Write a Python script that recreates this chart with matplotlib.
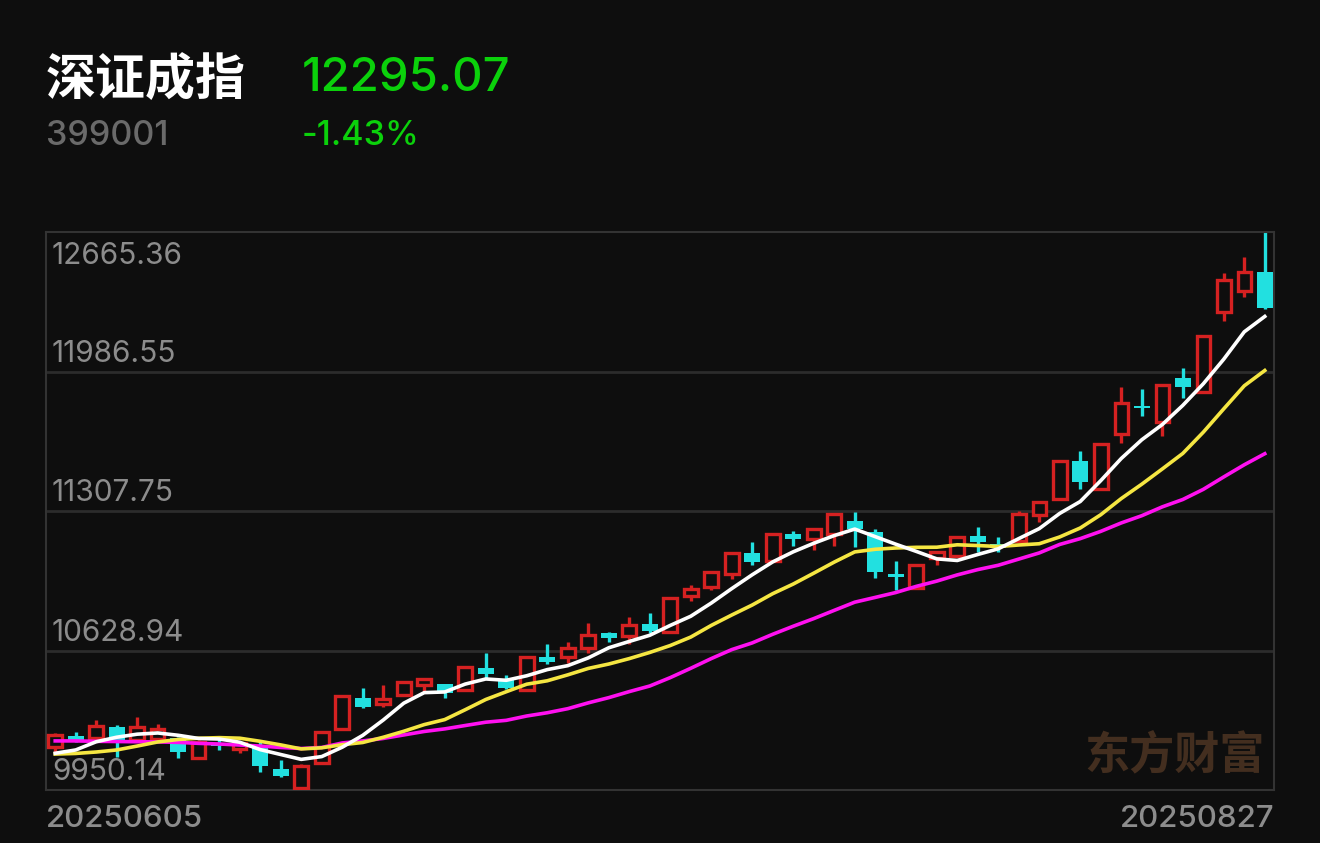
import numpy as np
import pandas as pd
import matplotlib
matplotlib.use('Agg')
from matplotlib import pyplot as plt
import matplotlib.transforms as mtransforms

plt.rcParams['font.family'] = ['Inter', 'Noto Sans CJK SC', 'DejaVu Sans']
CJK = ['Noto Sans CJK SC', 'DejaVu Sans']

name = '深证成指'
code = '399001'
last_price = '12295.07'
pct_change = '-1.43%'
start_date, end_date = '20250605', '20250827'

# daily OHLC, 2025-06-05 .. 2025-08-27
opens = [10159, 10215, 10205, 10255, 10193, 10198, 10202, 10104, 10179, 10150,
         10164, 10051, 9958, 10083, 10246, 10396, 10367, 10412, 10461, 10464,
         10437, 10542, 10492, 10437, 10596, 10596, 10640, 10713, 10701, 10756,
         10720, 10894, 10936, 11001, 11102, 11066, 11196, 11172, 11194, 11261,
         11207, 11001, 10932, 11078, 11090, 11186, 11147, 11163, 11288, 11366,
         11553, 11413, 11682, 11820, 11739, 11953, 11888, 12275, 12380, 12470]
highs = [10228, 10232, 10291, 10266, 10305, 10271, 10210, 10193, 10198, 10189,
         10185, 10096, 10077, 10237, 10411, 10448, 10461, 10481, 10492, 10467,
         10554, 10618, 10510, 10602, 10661, 10672, 10761, 10720, 10791, 10810,
         10884, 10948, 11013, 11106, 11158, 11198, 11210, 11223, 11293, 11304,
         11220, 11066, 11047, 11111, 11181, 11228, 11183, 11308, 11354, 11553,
         11601, 11640, 11910, 11900, 11923, 12002, 12162, 12464, 12545, 12665.36]
lows = [10135, 10184, 10203, 10111, 10190, 10191, 10106, 10101, 10145, 10130,
        10039, 10012, 9950.14, 10082, 10244, 10351, 10355, 10410, 10428, 10396,
        10434, 10489, 10444, 10434, 10563, 10570, 10618, 10672, 10659, 10713,
        10719, 10871, 10923, 10975, 11045, 11064, 11139, 11118, 11137, 11131,
        10980, 10923, 10931, 11045, 11089, 11110, 11110, 11162, 11256, 11364,
        11415, 11412, 11640, 11770, 11674, 11859, 11887, 12234, 12351, 12291]
closes = [10218, 10193, 10263, 10177, 10258, 10247, 10137, 10185, 10164, 10180,
          10067, 10018, 10067, 10232, 10408, 10355, 10391, 10477, 10489, 10424,
          10547, 10515, 10445, 10599, 10574, 10643, 10704, 10691, 10753, 10724,
          10883, 10927, 11012, 11105, 11061, 11196, 11172, 11220, 11292, 11219,
          11012, 10988, 11045, 11110, 11180, 11158, 11126, 11293, 11353, 11551,
          11447, 11634, 11832, 11808, 11921, 11913, 12159, 12432, 12473, 12295.07]

# moving-average values for the first days (history before the window)
ma5_head = [10129, 10145, 10185, 10207]
ma10_head = [10125, 10128, 10135, 10145, 10164, 10184, 10196, 10202, 10205]
ma20_head = [10189, 10189, 10187, 10186, 10185, 10184, 10182, 10177, 10174, 10169,
             10164, 10157, 10152, 10157, 10179, 10189, 10201, 10218, 10235]

y_ticks = [9950.14, 10628.94, 11307.75, 11986.55, 12665.36]

BG = '#0e0e0e'
RED = '#d52121'
CYAN = '#22e0e0'
GREEN = '#0bd10b'

df = pd.DataFrame({'open': opens, 'high': highs, 'low': lows, 'close': closes})
x = np.arange(len(df))


def moving_avg(n, head):
    ma = df['close'].rolling(n).mean().to_numpy()
    ma[:len(head)] = head
    return ma


fig = plt.figure(figsize=(13.2, 8.43), dpi=100, facecolor=BG)
ax = fig.add_axes([46 / 1320, 53 / 843, 1228 / 1320, 558 / 843], facecolor=BG)

for i, r in df.iterrows():
    o, h, l, c = r['open'], r['high'], r['low'], r['close']
    top, bot = max(o, c), min(o, c)
    if c >= o:
        ax.vlines(i, top, h, color=RED, lw=2.4, zorder=2)
        ax.vlines(i, l, bot, color=RED, lw=2.4, zorder=2)
        ax.bar(i, max(top - bot, 4), bottom=bot, width=0.66, facecolor=BG,
               edgecolor=RED, linewidth=2.4, zorder=3)
    else:
        ax.vlines(i, l, h, color=CYAN, lw=2.4, zorder=2)
        ax.bar(i, max(top - bot, 8), bottom=bot, width=0.78, facecolor=CYAN,
               edgecolor='none', zorder=3)

ax.plot(x, moving_avg(20, ma20_head), color='#ff10f0', lw=2.6, zorder=4)
ax.plot(x, moving_avg(10, ma10_head), color='#f5e642', lw=2.6, zorder=4)
ax.plot(x, moving_avg(5, ma5_head), color='#ffffff', lw=2.6, zorder=5)

ax.set_xlim(-0.45, len(df) - 0.55)
ax.set_ylim(y_ticks[0], y_ticks[-1])
ax.set_xticks([])
ax.set_yticks([])
for v in y_ticks[1:-1]:
    ax.axhline(v, color='#2c2c2c', lw=2, zorder=1)
for s in ax.spines.values():
    s.set_color('#333333')
    s.set_linewidth(1.5)

trans = mtransforms.blended_transform_factory(ax.transAxes, ax.transData)
for j, v in enumerate(y_ticks):
    if j == len(y_ticks) - 1:
        tr = mtransforms.offset_copy(trans, fig=fig, x=6, y=-10, units='dots')
        va = 'top'
    else:
        tr = mtransforms.offset_copy(trans, fig=fig, x=6, y=4, units='dots')
        va = 'bottom'
    ax.text(0, v, f'{v:.2f}', transform=tr, ha='left', va=va,
            color='#8c8c8c', fontsize=21.5)

ax.text(0.9925, 0.06, '东方财富', transform=ax.transAxes, ha='right', va='center',
        color='#432e1f', fontsize=32.5, fontweight='bold', family=CJK, zorder=0)

fig.text(46 / 1320, 1 - 80 / 843, name, color='white', fontsize=36,
         fontweight='bold', ha='left', va='center', family=CJK)
fig.text(302 / 1320, 1 - 79 / 843, last_price, color=GREEN, fontsize=34,
         fontweight='medium', ha='left', va='center')
fig.text(46 / 1320, 1 - 136 / 843, code, color='#6a6a6a', fontsize=24.5,
         fontweight='medium', ha='left', va='center')
fig.text(302 / 1320, 1 - 136 / 843, pct_change, color=GREEN, fontsize=24.5,
         fontweight='medium', ha='left', va='center')
fig.text(46 / 1320, 1 - 819 / 843, start_date, color='#8c8c8c', fontsize=22.5,
         fontweight='medium', ha='left', va='center')
fig.text(1274 / 1320, 1 - 819 / 843, end_date, color='#8c8c8c', fontsize=22.5,
         fontweight='medium', ha='right', va='center')

fig.savefig('out.png', dpi=100, facecolor=BG)
